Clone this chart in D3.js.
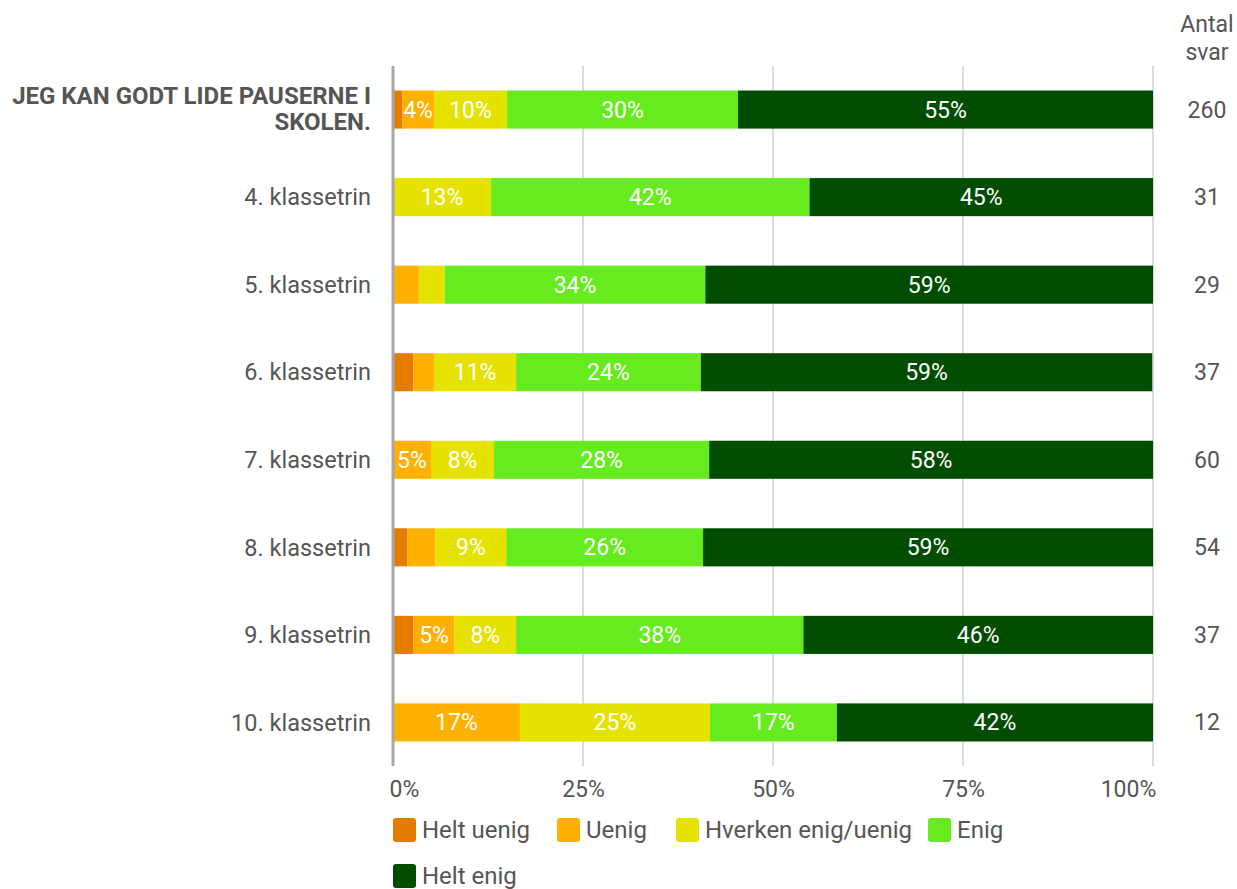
<!DOCTYPE html>
<html><head><meta charset="utf-8">
<script src="https://cdn.jsdelivr.net/npm/d3@7"></script>
<style>body{margin:0;background:#fff;font-family:Roboto,sans-serif;}</style>
</head><body><svg id="c" width="1237" height="889"></svg>
<script>
const categories = ["JEG KAN GODT LIDE PAUSERNE I SKOLEN.","4. klassetrin","5. klassetrin","6. klassetrin","7. klassetrin","8. klassetrin","9. klassetrin","10. klassetrin"];
const seriesNames = ["Helt uenig","Uenig","Hverken enig/uenig","Enig","Helt enig"];
const colors = ["#e47c02","#ffb000","#e6e200","#66eb1e","#004d00"];
const heltUenig = [1.2, 0, 0, 2.7, 0, 1.9, 2.7, 0];
const uenig = [4.2, 0, 3.4, 2.7, 5.0, 3.7, 5.4, 16.7];
const hverken = [9.6, 12.9, 3.4, 10.8, 8.3, 9.3, 8.1, 25.0];
const enig = [30.4, 41.9, 34.3, 24.3, 28.3, 25.9, 37.8, 16.7];
const heltEnig = [54.6, 45.2, 58.9, 59.4, 58.4, 59.2, 46.0, 41.6];
const antal = [260, 31, 29, 37, 60, 54, 37, 12];
const ticks = [0, 25, 50, 75, 100];

const svg = d3.select("#c");
const x = d3.scaleLinear().domain([0,100]).range([393,1153]);
const y = d3.scaleBand().domain(categories).range([66,766]).paddingInner(0.565).paddingOuter(0.28);
const color = d3.scaleOrdinal().domain(seriesNames).range(colors);
const series = [heltUenig, uenig, hverken, enig, heltEnig];

// grid
svg.append("g").selectAll("line").data(ticks.slice(1)).join("line")
  .attr("x1", d=>x(d)).attr("x2", d=>x(d)).attr("y1", 66).attr("y2", 766)
  .attr("stroke", "#b7b7b7").attr("stroke-width", 1);

// bars
const rows = categories.map((c,i)=>{
  let acc=0;
  return series.map((s,k)=>{const v=s[i]; const seg={cat:c,k,x0:acc,x1:acc+v,v}; acc+=v; return seg;});
});
const g = svg.append("g");
rows.forEach(r=>{
  g.selectAll(null).data(r.filter(d=>d.v>0)).join("rect")
    .attr("x", d=>x(d.x0)).attr("width", d=>x(d.x1)-x(d.x0))
    .attr("y", d=>y(d.cat)).attr("height", y.bandwidth())
    .attr("fill", d=>color(seriesNames[d.k]));
  g.selectAll(null).data(r.filter(d=>d.v>=4)).join("text")
    .attr("x", d=>(x(d.x0)+x(d.x1))/2).attr("y", d=>y(d.cat)+y.bandwidth()/2)
    .attr("dy","0.35em").attr("text-anchor","middle")
    .attr("fill","#fff").attr("font-size","23px")
    .text(d=>Math.round(d.v)+"%");
});

// zero axis line
svg.append("line").attr("x1",x(0)).attr("x2",x(0)).attr("y1",66).attr("y2",766)
  .attr("stroke","#a6a6a6").attr("stroke-width",3);

// x tick labels
const xAxis = d3.axisBottom(x).tickValues(ticks).tickFormat(d=>d+"%").tickSize(0).tickPadding(0);
const ax = svg.append("g").attr("transform","translate(0,789)").call(xAxis);
ax.select(".domain").remove();
ax.selectAll("text").attr("font-size","23px").attr("fill","#555").attr("font-family","Roboto,sans-serif")
  .attr("dy","0.35em").attr("x", (d,i)=> i===0 ? 11 : (i===4 ? -25 : 0));

// category labels
categories.forEach((c,i)=>{
  const cy = y(c)+y.bandwidth()/2;
  if(i===0){
    const t = svg.append("text").attr("text-anchor","end").attr("font-size","24px")
      .attr("font-weight","bold").attr("fill","#555");
    t.append("tspan").attr("x",371).attr("y",104).text("JEG KAN GODT LIDE PAUSERNE I");
    t.append("tspan").attr("x",371).attr("y",130).text("SKOLEN.");
  } else {
    svg.append("text").attr("x",371).attr("y",cy).attr("dy","0.35em").attr("text-anchor","end")
      .attr("font-size","23.5px").attr("fill","#555").text(c);
  }
  svg.append("text").attr("x",1207).attr("y",cy).attr("dy","0.35em").attr("text-anchor","middle")
    .attr("font-size","23px").attr("fill","#555").text(antal[i]);
});
const hdr = svg.append("text").attr("text-anchor","middle").attr("font-size","23px").attr("fill","#555");
hdr.append("tspan").attr("x",1207).attr("y",32).text("Antal");
hdr.append("tspan").attr("x",1207).attr("y",60).text("svar");

// legend
const legPos = [[393,830],[557,830],[676,830],[928,830],[393,876]];
seriesNames.forEach((n,i)=>{
  const [lx,ly]=legPos[i];
  svg.append("rect").attr("x",lx).attr("y",ly-12).attr("width",23).attr("height",24).attr("rx",3)
    .attr("fill",colors[i]);
  svg.append("text").attr("x",lx+29).attr("y",ly).attr("dy","0.35em").attr("font-size","24px")
    .attr("fill","#555").text(n);
});
</script></body></html>
